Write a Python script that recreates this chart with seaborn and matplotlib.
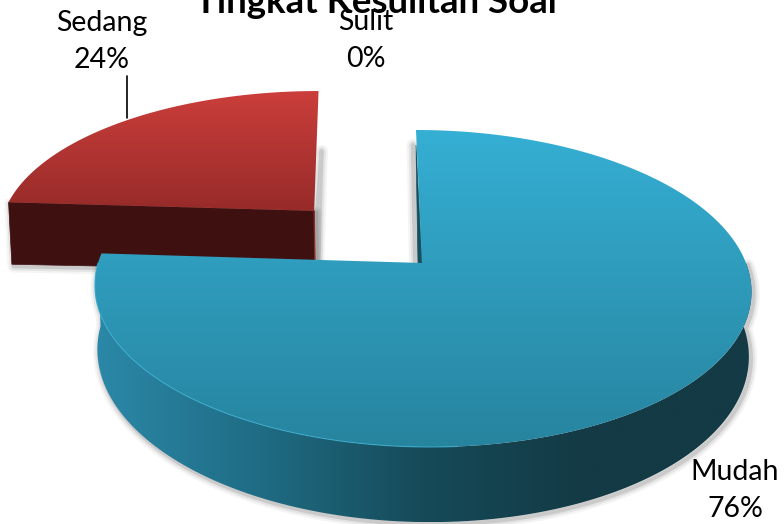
import numpy as np
import matplotlib
matplotlib.use("Agg")
import matplotlib.pyplot as plt
import seaborn as sns
from matplotlib.patches import Polygon

# data
categories = ["Mudah", "Sedang", "Sulit"]
values = [76, 24, 0]
explode = [0, 0.49, 0]
title = "Tingkat Kesulitan Soal"

sns.set_theme(style="white")
plt.rcParams["font.family"] = ["Lato", "DejaVu Sans"]

# projection of the unit pie onto the picture (pixels)
CX, CY = 422, 263
RX, RY = 324, 154.4
PERSP = 0.161
DEPTH, SHRINK = 63, 0.992


def project(u, v, lower=False, skew=7, grow=1.0):
    w = 1 + PERSP * v
    x = (RX * grow * u - skew * v) / w
    y = CY - RY * v / w
    if lower:
        return np.column_stack([CX + x * SHRINK, y + DEPTH / w])
    return np.column_stack([CX + x, y])


def arc(wedge, t1=None, t2=None, lower=False, skew=7, grow=1.0):
    t = np.radians(np.linspace(wedge.theta1 if t1 is None else t1,
                               wedge.theta2 if t2 is None else t2, 200))
    cu, cv = wedge.center
    return project(cu + np.cos(t), cv + np.sin(t), lower, skew, grow)


def apex(wedge, lower=False, skew=7, grow=1.0):
    cu, cv = wedge.center
    return project(np.array([cu]), np.array([cv]), lower, skew, grow)


def grad_fill(ax, verts, colors, horizontal=False, z=2):
    cmap = sns.blend_palette(colors, as_cmap=True)
    x0, y0 = verts.min(axis=0)
    x1, y1 = verts.max(axis=0)
    g = np.linspace(0, 1, 256)
    g = g.reshape(1, -1) if horizontal else g.reshape(-1, 1)
    im = ax.imshow(g, cmap=cmap, extent=(x0, x1, y1, y0), aspect="auto",
                   origin="upper", zorder=z, interpolation="bilinear")
    clip = Polygon(verts, closed=True, transform=ax.transData)
    im.set_clip_path(clip)


def shadow(ax, verts, dx=2, dy=2, z=1):
    for lw, a in [(9, 0.05), (6, 0.08), (3, 0.14)]:
        ax.add_patch(Polygon(verts + [dx, dy], closed=True, fill=False, ec="#303030",
                             lw=lw, alpha=a, zorder=z, joinstyle="round"))


fig, ax = plt.subplots(figsize=(7.84, 5.24), dpi=100)
wedges, _ = ax.pie(values, explode=explode, startangle=90, counterclock=False)
mudah, sedang = wedges[0], wedges[1]
for w in wedges:
    w.set_visible(False)
fig.subplots_adjust(0, 0, 1, 1)

# Sedang
S, G = 12, 1.01
sed_rim = arc(sedang, skew=S, grow=G)
sed_top = np.vstack([apex(sedang, skew=S, grow=G), sed_rim])
corner = sed_rim[np.argmin(sed_rim[:, 0])]
low_corner = arc(sedang, sedang.theta2, sedang.theta2, lower=True, skew=S, grow=G)[0]
sed_face = np.vstack([corner, apex(sedang, skew=S, grow=G), apex(sedang, True, skew=S, grow=G),
                      low_corner + [0, 3]])
right_top = sed_rim[np.argmax(sed_rim[:, 0])]
shadow(ax, sed_face, z=1)
shadow(ax, np.array([right_top + [0, 60], sed_face[1], sed_face[2]]), dx=3, dy=0, z=1)
ax.add_patch(Polygon(sed_face, closed=True, fc="#3F1010", ec="#3F1010", lw=0.5, zorder=3))
grad_fill(ax, sed_top, ["#CB3E3B", "#962B29"], z=4)
ax.plot(sed_face[1:3, 0], sed_face[1:3, 1], color="#8A2A28", lw=1, zorder=4)

# Mudah: side wall along the front of the rim
front1 = arc(mudah, 180, 360)
front2 = arc(mudah, 180, 360, lower=True)
m_rim = arc(mudah)
m_top = np.vstack([apex(mudah), m_rim])
side = np.vstack([front1, front2[::-1]])
shadow(ax, side, z=5)
grad_fill(ax, side, ["#2B88A8", "#1F6C84", "#164A58", "#133A45", "#133A45"], horizontal=True, z=6)

# inner sliver on the start edge of the slice
start = arc(mudah, 90, 90)[0]
a = apex(mudah)[0]
sliver = np.array([start + [0, 15], a, a + [-4, 0]])
shadow(ax, sliver, dx=-3, dy=0, z=5)
ax.add_patch(Polygon(sliver, closed=True, fc="#14505F", ec="#14505F", lw=0.5, zorder=6))

# top surface
grad_fill(ax, m_top, ["#35AFD4", "#27849F"], z=7)
ax.plot(front1[:105, 0], front1[:105, 1], color="#3BB5D8", lw=0.8, alpha=0.7, zorder=8)

# text
ax.text(376, 13, title, ha="center", va="baseline", fontsize=26.4, fontweight="bold",
        color="black", zorder=9)
label_pos = {"Sedang": (102, 31), "Sulit": (366, 30), "Mudah": (735, 480)}
for name, val in zip(categories, values):
    x, y = label_pos[name]
    ax.text(x, y, name, ha="center", va="baseline", fontsize=20.5, color="black", zorder=10)
    ax.text(x, y + 37, f"{val}%", ha="center", va="baseline", fontsize=20.5, color="black", zorder=10)

# leader line for Sedang
lx = 127
ax.plot([lx, lx], [76, 118], color="black", lw=1.2, zorder=5)

ax.set_aspect("auto")
ax.set_xlim(0, 784)
ax.set_ylim(524, 0)
ax.axis("off")
fig.savefig("out.png", dpi=100, facecolor="white")
